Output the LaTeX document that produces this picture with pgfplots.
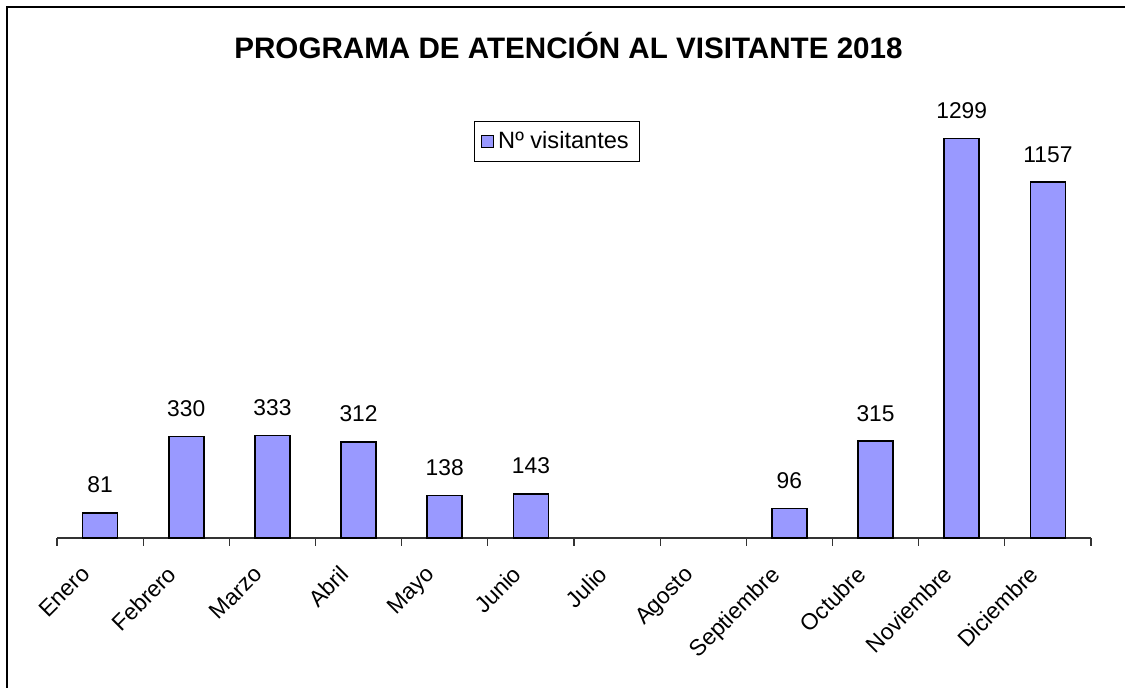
\documentclass[border=0pt]{standalone}
\usepackage{pgfplots}
\pgfplotsset{compat=1.18}
\usepackage{fontspec}
\setmainfont{Liberation Sans}
\definecolor{barfill}{HTML}{9999FF}
\begin{document}
\begin{tikzpicture}
\useasboundingbox (0,0) rectangle (562.5pt,344pt);
\draw[line width=1pt] (3.5pt,-1pt) -- (3.5pt,340.5pt) -- (563pt,340.5pt);
\node[font={\fontsize{14.8pt}{17pt}\selectfont\bfseries}] at (284.25pt,321pt) {PROGRAMA DE ATENCIÓN AL VISITANTE 2018};
\begin{axis}[
  at={(28.5pt,75pt)}, anchor=south west,
  scale only axis,
  width=517pt, height=215.25pt,
  xmin=-0.5, xmax=11.5, ymin=0, ymax=1400,
  axis x line*=bottom, axis y line=none,
  x axis line style={-, draw=black!80, line width=0.6pt},
  xtick={0,...,11},
  xticklabels={Enero,Febrero,Marzo,Abril,Mayo,Junio,Julio,Agosto,Septiembre,Octubre,Noviembre,Diciembre},
  major tick length=0pt,
  minor xtick={-0.5,0.5,...,11.5},
  minor tick length=4pt,
  xtick align=outside,
  tick style={draw=black!80, line width=0.6pt},
  ytick=\empty,
  xticklabel style={font={\fontsize{11.4pt}{13pt}\selectfont}, xshift=-10pt, yshift=-13pt, rotate=45, anchor=north east, inner sep=0pt},
  clip=false,
  ybar, bar width=17.5pt,
  /pgf/number format/assume math mode=true,
  /pgf/number format/1000 sep={},
  nodes near coords,
  nodes near coords style={font={\fontsize{11.4pt}{13pt}\selectfont}, anchor=south, inner sep=0pt, yshift=9.5pt},
  legend style={at={(0.4836,0.922)}, anchor=center, draw=black, line width=0.5pt, font={\fontsize{11.8pt}{13pt}\selectfont}, inner xsep=3.5pt, inner ysep=3pt, row sep=0pt},
  legend cell align=left,
  legend image code/.code={\draw[#1, line width=0.5pt] (0pt,-3pt) rectangle (6pt,3pt);},
]
\addplot[fill=barfill, draw=black, line width=0.9pt] coordinates {
(0,81) (1,330) (2,333) (3,312) (4,138) (5,143) (8,96) (9,315) (10,1299) (11,1157)};
\addlegendentry{Nº visitantes}
\end{axis}
\end{tikzpicture}
\end{document}
